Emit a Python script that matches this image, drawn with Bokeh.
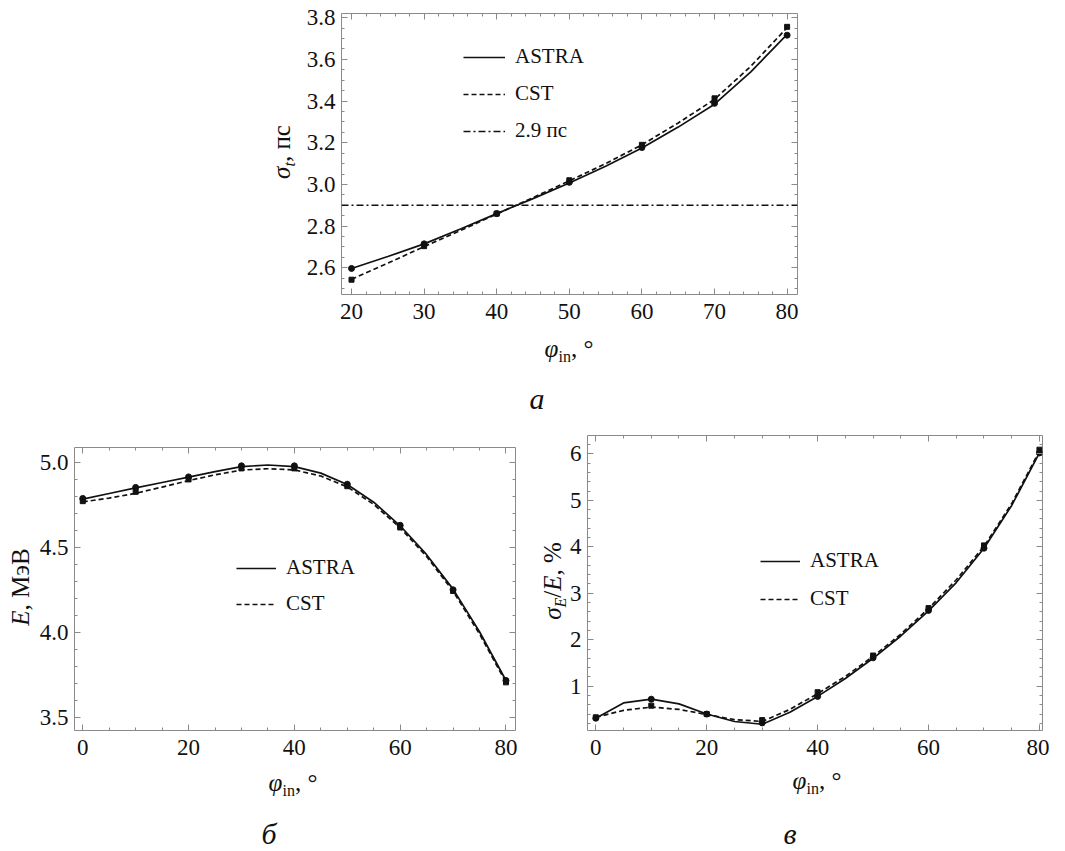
from bokeh.plotting import figure
from bokeh.models import (Range1d, LinearAxis, Legend, LegendItem, Span, Spacer, Div,
                          SingleIntervalTicker, NumeralTickFormatter)
from bokeh.layouts import column, row
from bokeh.embed import file_html
from bokeh.resources import INLINE

SERIF = "Liberation Serif"
INK = "#111111"
GRAY = "#8a8a8a"

# ---------------- data: panel а (sigma_t vs phi_in) ----------------
phi_a = [20, 30, 40, 50, 60, 70, 80]
sigma_t_astra = [2.597, 2.715, 2.86, 3.01, 3.177, 3.389, 3.716]
sigma_t_cst = [2.543, 2.704, 2.86, 3.02, 3.19, 3.413, 3.756]
phi_a_curve = [20, 25, 30, 35, 40, 45, 50, 55, 60, 65, 70, 75, 80]
sigma_t_astra_curve = [2.597, 2.654, 2.715, 2.786, 2.86, 2.932, 3.007, 3.087,
                       3.175, 3.275, 3.385, 3.54, 3.72]
sigma_t_cst_curve = [2.545, 2.622, 2.702, 2.779, 2.858, 2.937, 3.017, 3.10,
                     3.19, 3.295, 3.408, 3.567, 3.752]
sigma_t_limit = 2.9

# ---------------- data: panel б (E vs phi_in) ----------------
phi_b = [0, 10, 20, 30, 40, 50, 60, 70, 80]
energy_astra = [4.788, 4.853, 4.915, 4.98, 4.98, 4.872, 4.63, 4.25, 3.716]
energy_cst = [4.772, 4.827, 4.90, 4.965, 4.965, 4.86, 4.617, 4.243, 3.705]
phi_curve = [0, 5, 10, 15, 20, 25, 30, 35, 40, 45, 50, 55, 60, 65, 70, 75, 80]
energy_astra_curve = [4.784, 4.817, 4.85, 4.882, 4.914, 4.946, 4.975, 4.985, 4.975,
                      4.937, 4.87, 4.766, 4.627, 4.457, 4.254, 4.003, 3.716]
energy_cst_curve = [4.768, 4.79, 4.818, 4.855, 4.893, 4.927, 4.955, 4.963, 4.956,
                    4.92, 4.856, 4.753, 4.615, 4.446, 4.242, 3.99, 3.705]

# ---------------- data: panel в (sigma_E/E vs phi_in) ----------------
phi_c = [0, 10, 20, 30, 40, 50, 60, 70, 80]
spread_astra = [0.31, 0.72, 0.40, 0.21, 0.78, 1.61, 2.63, 3.97, 6.02]
spread_cst = [0.33, 0.58, 0.40, 0.27, 0.87, 1.66, 2.68, 4.03, 6.09]
spread_astra_curve = [0.31, 0.64, 0.72, 0.62, 0.40, 0.24, 0.18, 0.44, 0.78,
                      1.165, 1.60, 2.08, 2.62, 3.23, 3.97, 4.89, 6.02]
spread_cst_curve = [0.33, 0.48, 0.55, 0.50, 0.39, 0.28, 0.24, 0.50, 0.84,
                    1.21, 1.64, 2.12, 2.67, 3.29, 4.01, 4.93, 6.06]

# ---------------- text ----------------
SUB = 'style="font-size:16px;vertical-align:-5px;line-height:0"'
XLABEL_HTML = f'<i>φ</i><span {SUB}>in</span>, °'
YLABEL_A_HTML = f'<i>σ</i><span {SUB}><i>t</i></span>, пс'
YLABEL_B_HTML = '<i>E</i>, МэВ'
YLABEL_C_HTML = f'<i>σ</i><span {SUB}><i>E</i></span>/<i>E</i>, %'


def style_axis(ax, labels=True, standoff=6):
    ax.axis_line_color = None
    ax.major_tick_in = 6
    ax.major_tick_out = 0
    ax.minor_tick_in = 3
    ax.minor_tick_out = 0
    ax.major_tick_line_color = GRAY
    ax.minor_tick_line_color = GRAY
    if labels:
        ax.major_label_text_font = SERIF
        ax.major_label_text_font_size = "23px"
        ax.major_label_text_color = INK
        ax.major_label_standoff = standoff
    else:
        ax.major_label_text_font_size = "1px"
        ax.major_label_text_color = None
        ax.major_label_standoff = 0


def make_panel(width, height, border, xr, yr, xtick, xminor, ytick, yminor, yfmt=None):
    bl, br, bt, bb = border
    p = figure(width=width, height=height, x_range=Range1d(*xr), y_range=Range1d(*yr),
               output_backend="svg", toolbar_location=None,
               min_border_left=bl, min_border_right=br, min_border_top=bt,
               min_border_bottom=bb)
    p.grid.visible = False
    p.outline_line_color = GRAY
    p.outline_line_width = 1
    p.background_fill_color = "white"
    p.border_fill_color = "white"
    xb = p.below[0]
    yl = p.left[0]
    xb.ticker = SingleIntervalTicker(interval=xtick, num_minor_ticks=xminor)
    yl.ticker = SingleIntervalTicker(interval=ytick, num_minor_ticks=yminor)
    if yfmt:
        yl.formatter = NumeralTickFormatter(format=yfmt)
    style_axis(xb, True, 9)
    style_axis(yl, True, 6)
    top = LinearAxis(ticker=SingleIntervalTicker(interval=xtick, num_minor_ticks=xminor))
    right = LinearAxis(ticker=SingleIntervalTicker(interval=ytick, num_minor_ticks=yminor))
    style_axis(top, False)
    style_axis(right, False)
    p.add_layout(top, "above")
    p.add_layout(right, "right")
    return p


def add_series(p, x, y_pts, xc, y_curve, dash, marker, msize):
    r = p.line(xc, y_curve, line_color=INK, line_width=1.7, line_dash=dash)
    p.scatter(x, y_pts, marker=marker, size=msize, fill_color=INK, line_color=INK)
    return r


def add_legend(p, items, loc, glyph_w, spacing):
    lg = Legend(items=[LegendItem(label=lab, renderers=[r]) for lab, r in items],
                location=loc, orientation="vertical", glyph_width=glyph_w,
                glyph_height=20, label_height=20, label_standoff=10, spacing=spacing,
                padding=0, margin=0, border_line_color=None,
                background_fill_alpha=0, label_text_font=SERIF,
                label_text_font_size="21px", label_text_color=INK)
    p.add_layout(lg)


def text_div(width, height, items):
    spans = []
    for html, cx, cy, size, rot in items:
        tr = "translate(-50%,-50%)" + (" rotate(-90deg)" if rot else "")
        spans.append(
            f'<span style="position:absolute;left:{cx}px;top:{cy}px;transform:{tr};'
            f'white-space:nowrap;font-family:\'{SERIF}\';font-size:{size}px;'
            f'line-height:1;color:{INK}">{html}</span>')
    inner = (f'<div style="position:relative;width:{width}px;height:{height}px;'
             f'overflow:visible">{"".join(spans)}</div>')
    return Div(text=inner, width=width, height=height, margin=0)


# ---------------- panel а ----------------
p1 = make_panel(516, 330, (45, 15, 13, 36), (18.62, 81.43), (2.472, 3.82), 10, 5, 0.2, 4, "0.0")
p1.add_layout(Span(location=sigma_t_limit, dimension="width", line_color=INK,
                   line_width=1.6, line_dash="7 3 2 3"))
ra1 = add_series(p1, phi_a, sigma_t_astra, phi_a_curve, sigma_t_astra_curve, "solid", "circle", 6)
rc1 = add_series(p1, phi_a, sigma_t_cst, phi_a_curve, sigma_t_cst_curve, "5 3", "square", 5)
rl1 = p1.line(x=phi_a[:1], y=[sigma_t_limit], line_color=INK, line_width=1.6,
              line_dash="7 3 2 3")
add_legend(p1, [("ASTRA", ra1), ("CST", rc1), ("2.9 пс", rl1)], (122, 151), 42, 12)

ya = text_div(28, 420, [(YLABEL_A_HTML, 12.6, 152, 25, True)])
xa = text_div(516, 90, [(XLABEL_HTML, 273, 17.6, 25, False),
                        ('<i>а</i>', 241, 68.9, 30, False)])

# ---------------- panel б ----------------
p2 = make_panel(501, 346, (40, 20, 27, 36), (-1.56, 81.8), (3.4215, 5.088), 20, 4, 0.5, 5, "0.0")
ra2 = add_series(p2, phi_b, energy_astra, phi_curve, energy_astra_curve, "solid", "circle", 6)
rc2 = add_series(p2, phi_b, energy_cst, phi_curve, energy_cst_curve, "5 3", "square", 5)
add_legend(p2, [("ASTRA", ra2), ("CST", rc2)], (162, 114), 40, 11)

yb = text_div(34, 431, [(YLABEL_B_HTML, 19.6, 167, 25, True)])
xb = text_div(501, 85, [(XLABEL_HTML, 259, 15.6, 25, False),
                        ('<i>б</i>', 235, 67.9, 30, False)])

# ---------------- panel в ----------------
p3 = make_panel(483, 346, (19, 7, 15, 36), (-1.5, 80.55), (0.046, 6.395), 20, 4, 1, 5)
ra3 = add_series(p3, phi_c, spread_astra, phi_curve, spread_astra_curve, "solid", "circle", 6)
rc3 = add_series(p3, phi_c, spread_cst, phi_curve, spread_cst_curve, "5 3", "square", 5)
add_legend(p3, [("ASTRA", ra3), ("CST", rc3)], (173, 119), 40, 13)

yc = text_div(31, 431, [(YLABEL_C_HTML, 16.6, 161, 25, True)])
xc = text_div(483, 85, [(XLABEL_HTML, 251, 13.6, 25, False),
                        ('<i>в</i>', 224, 67.9, 30, False)])

layout = column(
    row(Spacer(width=268, height=420), ya, column(p1, xa)),
    row(yb, column(p2, xb), yc, column(p3, xc)),
)

open("out.html", "w").write(file_html(layout, INLINE))
